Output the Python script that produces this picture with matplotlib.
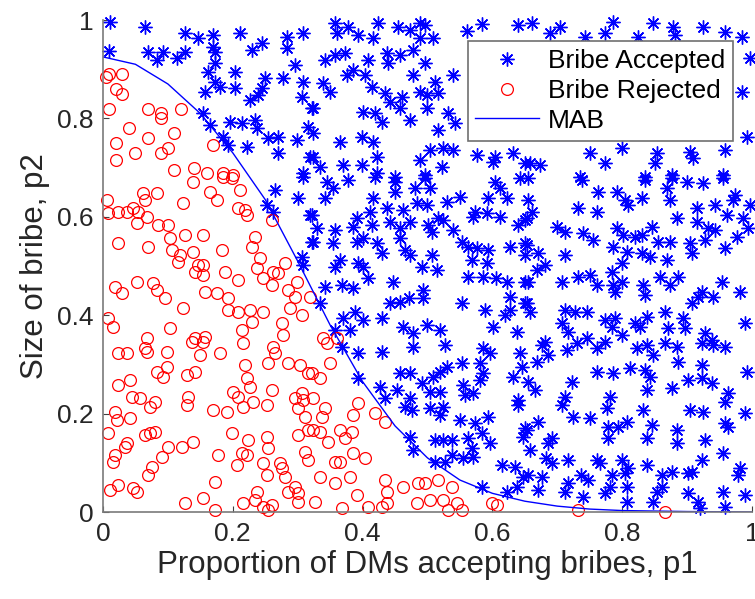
import numpy as np
import matplotlib.pyplot as plt

# (p1, p2) pairs
accepted = [
    (.011, .996), (.065, .986), (.009, .937), (.126, .974), (.146, .963), (.169, .970), (.169, .945),
    (.173, .935), (.211, .974), (.230, .939), (.245, .953), (.284, .966), (.284, .943), (.308, .974),
    (.069, .935), (.092, .935), (.083, .919), (.114, .923), (.126, .935), (.173, .913), (.162, .894),
    (.173, .874), (.180, .864), (.203, .894), (.203, .862), (.157, .854), (.226, .837), (.250, .882),
    (.245, .862), (.239, .848), (.277, .882), (.296, .909), (.308, .874), (.307, .844), (.322, .821),
    (.154, .811), (.165, .787), (.196, .793), (.214, .791), (.234, .797), (.237, .780), (.185, .762),
    (.193, .746), (.222, .742), (.254, .760), (.270, .762), (.299, .756), (.316, .783), (.270, .730),
    (.319, .722), (.308, .689),
    (.357, .994), (.361, .974), (.378, .986), (.393, .970), (.424, .994), (.416, .963), (.455, .986),
    (.473, .980), (.488, .994), (.496, .990), (.488, .963), (.508, .963), (.561, .978), (.584, .992),
    (.639, .990), (.342, .919), (.357, .929), (.373, .933), (.408, .919), (.438, .933), (.439, .913),
    (.458, .929), (.478, .939), (.496, .913), (.376, .888), (.385, .898), (.404, .888), (.478, .888),
    (.512, .874), (.539, .888), (.339, .872), (.350, .854), (.414, .864), (.435, .852), (.442, .833),
    (.461, .844), (.488, .854), (.499, .848), (.516, .852), (.324, .821), (.401, .813), (.419, .811),
    (.430, .793), (.458, .821), (.473, .797), (.499, .821), (.532, .811), (.542, .791), (.324, .770),
    (.365, .752), (.399, .762), (.416, .752), (.516, .776), (.324, .722), (.334, .701), (.370, .705),
    (.399, .705), (.422, .722), (.422, .689), (.450, .681), (.488, .715), (.504, .736), (.524, .740),
    (.522, .701), (.496, .685), (.539, .736), (.576, .726), (.604, .722), (.632, .730), (.601, .711),
    (.650, .709),
    (.661, .994), (.689, .974), (.704, .986), (.743, .966), (.773, .974), (.786, .996), (.824, .966),
    (.847, .994), (.878, .986), (.881, .970), (.924, .986), (.958, .976), (.985, .966), (.997, .923),
    (.985, .854), (.992, .762), (.658, .709), (.673, .705), (.750, .730), (.773, .709), (.800, .740),
    (.854, .730), (.851, .709), (.904, .732), (.909, .720), (.958, .736), (.735, .681), (.835, .681),
    (.877, .685), (.955, .685),
    (.265, .654), (.300, .638), (.253, .624), (.262, .610), (.319, .604), (.322, .549), (.307, .518),
    (.308, .502), (.308, .681),
    (.345, .671), (.354, .659), (.378, .675), (.342, .638), (.419, .681), (.450, .671), (.450, .650),
    (.481, .659), (.504, .659), (.496, .679), (.416, .638), (.484, .628), (.499, .624), (.530, .630),
    (.550, .640), (.593, .638), (.604, .671), (.612, .659), (.622, .638), (.643, .679), (.322, .604),
    (.330, .577), (.324, .549), (.357, .573), (.385, .579), (.391, .598), (.411, .610), (.414, .583),
    (.438, .618), (.442, .589), (.458, .577), (.462, .614), (.473, .589), (.501, .583), (.507, .569),
    (.516, .598), (.524, .593), (.539, .573), (.570, .600), (.573, .610), (.592, .608), (.612, .600),
    (.639, .583), (.650, .593), (.354, .547), (.391, .549), (.401, .557), (.422, .547), (.430, .526),
    (.458, .557), (.465, .533), (.473, .522), (.507, .522), (.553, .549), (.562, .539), (.576, .537),
    (.593, .533), (.627, .539), (.650, .547), (.650, .522), (.365, .512), (.357, .498), (.393, .506),
    (.401, .498), (.492, .498), (.515, .492), (.569, .512), (.592, .506), (.408, .476), (.342, .457),
    (.368, .461), (.385, .455), (.447, .467), (.562, .478), (.586, .478), (.606, .476), (.622, .467),
    (.650, .467), (.493, .451), (.493, .435), (.627, .437), (.442, .425), (.458, .427), (.471, .435),
    (.553, .425), (.589, .411), (.619, .400), (.627, .411), (.650, .425), (.334, .425), (.370, .394),
    (.388, .407), (.401, .390), (.430, .394), (.380, .370), (.357, .370), (.462, .376), (.478, .364),
    (.499, .380), (.519, .370), (.601, .376), (.638, .366),
    (.655, .679), (.738, .675), (.835, .675), (.877, .679), (.900, .671), (.924, .669), (.955, .679),
    (.869, .659), (.763, .650), (.792, .650), (.804, .634), (.809, .624), (.830, .638), (.874, .634),
    (.974, .644), (.971, .634), (.655, .634), (.661, .610), (.653, .598), (.732, .618), (.761, .610),
    (.915, .618), (.943, .624), (.961, .604), (.997, .624), (.884, .598), (.915, .589), (.986, .598),
    (.700, .579), (.712, .569), (.740, .567), (.755, .553), (.792, .577), (.801, .563), (.820, .559),
    (.846, .579), (.830, .563), (.855, .549), (.874, .549), (.904, .547), (.908, .526), (.928, .553),
    (.932, .577), (.943, .573), (.977, .559), (.958, .537), (.994, .577), (.653, .543), (.670, .526),
    (.712, .522), (.786, .539), (.807, .528), (.830, .526), (.843, .518), (.869, .512), (.800, .506),
    (.681, .502), (.669, .492), (.655, .467), (.707, .467), (.732, .478), (.750, .482), (.761, .461),
    (.784, .488), (.786, .461), (.800, .467), (.789, .447), (.832, .461), (.835, .441), (.858, .478),
    (.874, .461), (.886, .478), (.954, .467), (.923, .447), (.917, .437), (.940, .437), (.981, .447),
    (.908, .425), (.653, .425), (.658, .407), (.712, .411), (.727, .407), (.746, .407), (.707, .384),
    (.717, .366), (.773, .390), (.789, .394), (.784, .376), (.800, .360), (.820, .384), (.827, .376),
    (.838, .396), (.866, .407), (.871, .374), (.894, .394), (.897, .374), (.928, .364), (.938, .350),
    (.989, .384), (.681, .346), (.746, .354), (.773, .346),
    (.368, .335), (.393, .323), (.430, .325), (.478, .335), (.527, .339), (.586, .333), (.596, .323),
    (.643, .323), (.393, .272), (.427, .254), (.453, .248), (.458, .283), (.473, .283), (.492, .262),
    (.508, .274), (.519, .285), (.530, .295), (.553, .303), (.581, .303), (.581, .268), (.586, .283),
    (.632, .274), (.646, .295), (.504, .244), (.519, .244), (.555, .258), (.558, .238), (.570, .242),
    (.473, .232), (.435, .232), (.465, .213), (.476, .207), (.504, .211), (.524, .213), (.519, .197),
    (.550, .187), (.593, .193), (.639, .228), (.639, .217), (.573, .181), (.584, .161), (.596, .140),
    (.562, .150), (.473, .152), (.478, .126), (.512, .146), (.524, .146), (.538, .146), (.569, .130),
    (.538, .116), (.555, .110), (.570, .112), (.512, .102), (.527, .102), (.615, .096), (.635, .091),
    (.647, .071), (.650, .171), (.647, .152), (.584, .051), (.622, .041), (.638, .051),
    (.676, .339), (.686, .319), (.715, .329), (.730, .343), (.761, .333), (.823, .333), (.838, .339),
    (.847, .319), (.866, .343), (.884, .335), (.923, .343), (.940, .339), (.958, .335), (.669, .305),
    (.655, .264), (.666, .248), (.723, .264), (.761, .285), (.786, .283), (.812, .293), (.835, .289),
    (.843, .274), (.838, .248), (.877, .252), (.886, .305), (.901, .268), (.923, .299), (.923, .272),
    (.938, .262), (.963, .242), (.958, .224), (.992, .285), (.712, .234), (.707, .217), (.781, .234),
    (.777, .211), (.724, .193), (.750, .191), (.832, .207), (.904, .207), (.924, .203), (.989, .201),
    (.670, .183), (.778, .173), (.793, .173), (.807, .183), (.846, .177), (.884, .167), (.958, .181),
    (.963, .173), (.653, .167), (.692, .150), (.686, .140), (.778, .150), (.838, .150), (.884, .140),
    (.928, .146), (.658, .126), (.955, .120), (.682, .110), (.692, .100), (.716, .106), (.761, .106),
    (.766, .100), (.800, .106), (.838, .096), (.923, .106), (.981, .089), (.655, .075), (.676, .071),
    (.737, .075), (.784, .075), (.804, .079), (.809, .089), (.861, .075), (.877, .081), (.901, .079),
    (.908, .081), (.978, .075), (.716, .059), (.747, .065), (.670, .045), (.712, .041), (.740, .030),
    (.773, .039), (.781, .051), (.807, .051), (.807, .020), (.847, .020), (.854, .041), (.861, .051),
    (.901, .039), (.917, .020), (.920, .008), (.955, .041), (.958, .010), (.989, .035),
]

rejected = [
    (.010, .890), (.005, .885), (.030, .890), (.020, .860), (.030, .850), (.010, .820), (.070, .820),
    (.090, .810), (.090, .800), (.120, .820), (.040, .780), (.070, .760), (.110, .770), (.100, .740),
    (.090, .730), (.020, .750), (.020, .715), (.050, .730), (.170, .745), (.110, .695), (.140, .700),
    (.160, .690), (.185, .690), (.200, .685),
    (.006, .634), (.008, .608), (.023, .610), (.037, .610), (.046, .618), (.054, .610), (.068, .600),
    (.052, .587), (.062, .648), (.065, .634), (.083, .648), (.123, .628), (.139, .671), (.165, .650),
    (.176, .634), (.185, .681), (.199, .679), (.211, .654), (.208, .618), (.219, .614), (.222, .604),
    (.260, .593), (.085, .583), (.100, .583), (.023, .547), (.069, .539), (.103, .557), (.126, .563),
    (.154, .563), (.106, .533), (.119, .522), (.116, .508), (.139, .528), (.183, .533), (.230, .539),
    (.234, .559), (.146, .502), (.154, .502), (.142, .488), (.154, .482), (.188, .488), (.208, .472),
    (.242, .516), (.237, .496), (.247, .476), (.262, .488), (.270, .486), (.280, .506), (.260, .461),
    (.285, .451), (.299, .467), (.296, .437), (.319, .437), (.018, .457), (.029, .445), (.052, .467),
    (.077, .465), (.083, .451), (.096, .435), (.157, .447), (.176, .445), (.193, .435), (.123, .415),
    (.193, .411), (.208, .407), (.226, .411), (.247, .407), (.288, .415), (.307, .400), (.230, .386),
    (.214, .370), (.276, .384), (.277, .360), (.008, .394), (.015, .376), (.103, .374), (.068, .354),
    (.142, .354), (.157, .356), (.339, .354), (.361, .354),
    (.023, .323), (.037, .323), (.065, .333), (.068, .325), (.099, .325), (.137, .346), (.154, .346),
    (.149, .319), (.180, .323), (.216, .343), (.262, .335), (.265, .323), (.254, .303), (.285, .303),
    (.304, .299), (.316, .283), (.083, .285), (.092, .274), (.099, .295), (.129, .278), (.142, .285),
    (.023, .258), (.042, .268), (.219, .299), (.222, .272), (.226, .254), (.260, .248), (.200, .244),
    (.208, .234), (.045, .234), (.057, .232), (.072, .213), (.080, .224), (.131, .234), (.129, .217),
    (.169, .207), (.191, .203), (.216, .213), (.231, .224), (.253, .217), (.296, .232), (.307, .242),
    (.308, .228), (.300, .211), (.311, .193), (.018, .203), (.022, .187), (.042, .191), (.008, .161),
    (.065, .157), (.072, .161), (.080, .163), (.199, .161), (.223, .146), (.253, .152), (.300, .157),
    (.316, .167), (.037, .140), (.034, .132), (.100, .132), (.122, .132), (.139, .142), (.091, .112),
    (.018, .116), (.015, .102), (.177, .116), (.214, .120), (.222, .116), (.254, .130), (.206, .096),
    (.247, .100), (.273, .100), (.276, .089), (.311, .122), (.316, .106), (.075, .091), (.069, .075),
    (.253, .075), (.280, .071), (.173, .061), (.011, .045), (.023, .055), (.046, .049), (.052, .041),
    (.285, .041), (.300, .039), (.296, .051), (.126, .018), (.154, .028), (.173, .004), (.216, .018),
    (.237, .041), (.234, .024), (.247, .010), (.254, .004), (.260, .014), (.300, .020),
    (.345, .343), (.350, .303), (.334, .272), (.322, .283), (.324, .232), (.342, .211), (.337, .193),
    (.324, .167), (.334, .163), (.347, .142), (.393, .222), (.385, .197), (.365, .167), (.384, .163),
    (.373, .150), (.419, .201), (.435, .183), (.385, .120), (.404, .110), (.357, .102), (.365, .102),
    (.334, .071), (.357, .059), (.380, .071), (.391, .035), (.327, .020), (.368, .008), (.408, .010),
    (.435, .065), (.437, .041), (.437, .018), (.430, .010), (.462, .051), (.485, .059), (.496, .059),
    (.516, .065), (.538, .051), (.484, .018), (.504, .024), (.524, .024), (.545, .018), (.532, .004),
    (.553, .004), (.599, .018), (.607, .014), (.732, .004), (.866, .000),
]

mab_p1 = [0, .05, .10, .15, .20, .25, .30, .35, .40, .45, .50, .55, .60, .65, .70, .75, .80, .90, 1.0]
mab_p2 = [.925, .91, .87, .81, .73, .635, .51, .38, .265, .175, .11, .065, .038, .022, .012, .006, .003, .001, 0]

acc = np.array(accepted)
rej = np.array(rejected)

plt.rcParams['font.family'] = ['Liberation Sans', 'DejaVu Sans']

fig = plt.figure(figsize=(7.55, 5.99), dpi=100)
ax = fig.add_axes([0.1364, 0.1452, 0.8596, 0.8214])

ax.plot(acc[:, 0], acc[:, 1], ls='none', marker=(8, 2, 0), ms=10, mew=1.0,
        color='#0000ff', clip_on=False, label='Bribe Accepted')
ax.plot(rej[:, 0], rej[:, 1], ls='none', marker='o', ms=8.5, mfc='none',
        mec='#ff0000', mew=0.9, clip_on=False, label='Bribe Rejected')
ax.plot(mab_p1, mab_p2, color='#0000ff', lw=1.0, label='MAB')

ax.set_xlim(0, 1)
ax.set_ylim(0, 1)
ax.set_xticks([0, 0.2, 0.4, 0.6, 0.8, 1])
ax.set_xticklabels(['0', '0.2', '0.4', '0.6', '0.8', '1'])
ax.set_yticks([0, 0.2, 0.4, 0.6, 0.8, 1])
ax.set_yticklabels(['0', '0.2', '0.4', '0.6', '0.8', '1'])
ax.tick_params(direction='in', length=4, width=0.8, color='#404040',
               labelsize=19, labelcolor='#262626', pad=7)
for s in ['top', 'right']:
    ax.spines[s].set_visible(False)
for s in ['left', 'bottom']:
    ax.spines[s].set_color('#7a7a7a')
    ax.spines[s].set_linewidth(1.2)

ax.set_xlabel('Proportion of DMs accepting bribes, p1', fontsize=22.5, color='#262626', labelpad=3)
ax.set_ylabel('Size of bribe, p2', fontsize=22.5, color='#262626', labelpad=5)

leg = ax.legend(loc='upper right', bbox_to_anchor=(0.971, 0.957), fontsize=19,
                fancybox=False, framealpha=1, edgecolor='#707070',
                handlelength=2.4, handletextpad=0.35, labelspacing=0.22,
                borderpad=0.3, borderaxespad=0)
leg.get_frame().set_linewidth(1.2)

fig.savefig('out.png', dpi=100)
